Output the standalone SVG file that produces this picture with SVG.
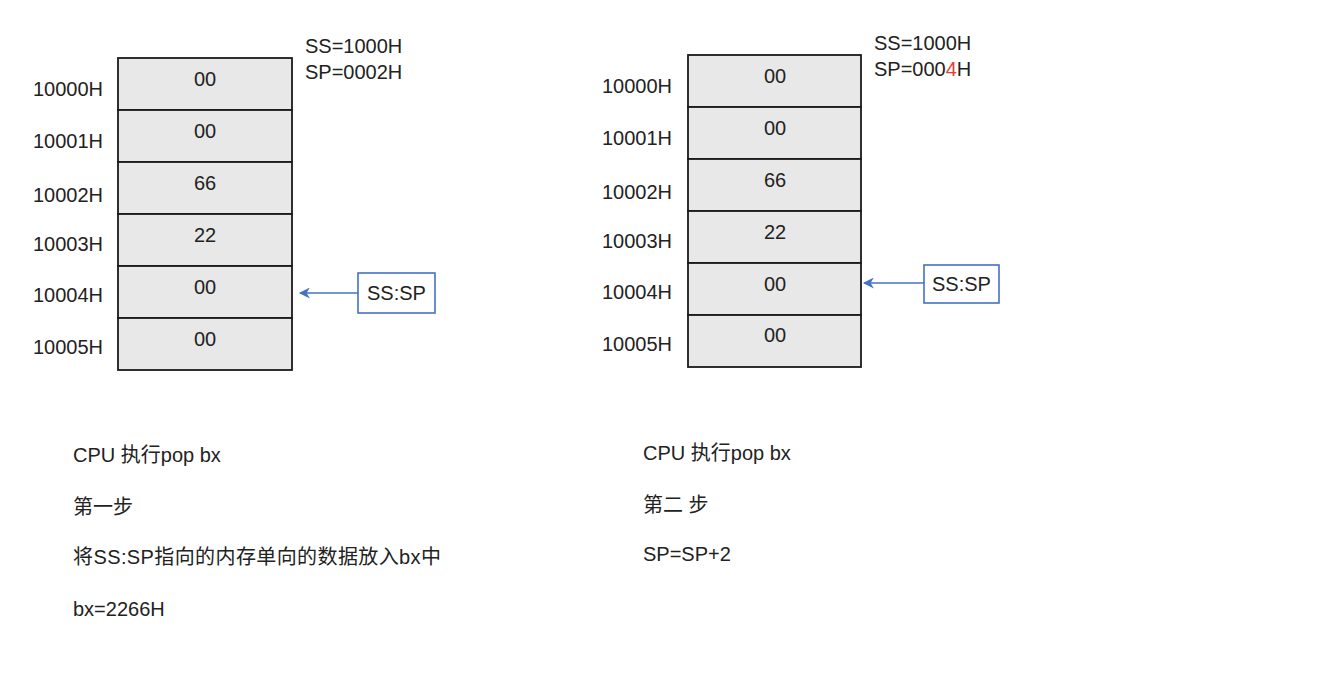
<svg xmlns="http://www.w3.org/2000/svg" width="1330" height="700" viewBox="0 0 1330 700">
<style>
text{font-family:"Liberation Sans","Noto Sans CJK SC",Arial,sans-serif;font-size:20px;fill:#222}
.cell{fill:#e8e8e8;stroke:#1a1a1a;stroke-width:1.8}
.v{text-anchor:middle}
.box{fill:#fff;stroke:#4472C4;stroke-width:1.6}
.conn{stroke:#4472C4;stroke-width:1.6;fill:none}
</style>
<defs>
<marker id="ah" viewBox="0 0 10 10" refX="9" refY="5" markerWidth="12" markerHeight="11" markerUnits="userSpaceOnUse" orient="auto">
<path d="M0,0 L10,5 L0,10 L3,5 Z" fill="#4472C4"/>
</marker>
</defs>
<rect width="1330" height="700" fill="#fff"/>

<g id="stack-left">
<rect class="cell" x="118" y="58" width="174" height="52"/>
<rect class="cell" x="118" y="110" width="174" height="52"/>
<rect class="cell" x="118" y="162" width="174" height="52"/>
<rect class="cell" x="118" y="214" width="174" height="52"/>
<rect class="cell" x="118" y="266" width="174" height="52"/>
<rect class="cell" x="118" y="318" width="174" height="52"/>
<text class="v" x="205" y="86">00</text>
<text class="v" x="205" y="138">00</text>
<text class="v" x="205" y="190">66</text>
<text class="v" x="205" y="242">22</text>
<text class="v" x="205" y="294">00</text>
<text class="v" x="205" y="346">00</text>
<text x="33" y="96">10000H</text>
<text x="33" y="148">10001H</text>
<text x="33" y="202">10002H</text>
<text x="33" y="251">10003H</text>
<text x="33" y="302">10004H</text>
<text x="33" y="354">10005H</text>
<text x="305" y="53">SS=1000H</text>
<text x="305" y="79">SP=0002H</text>
</g>

<g id="sssp-left">
<rect class="box" x="358" y="273" width="77" height="40"/>
<text class="v" x="396.500" y="300">SS:SP</text>
</g>

<g id="stack-right">
<rect class="cell" x="688" y="55" width="173" height="52"/>
<rect class="cell" x="688" y="107" width="173" height="52"/>
<rect class="cell" x="688" y="159" width="173" height="52"/>
<rect class="cell" x="688" y="211" width="173" height="52"/>
<rect class="cell" x="688" y="263" width="173" height="52"/>
<rect class="cell" x="688" y="315" width="173" height="52"/>
<text class="v" x="775" y="83">00</text>
<text class="v" x="775" y="135">00</text>
<text class="v" x="775" y="187">66</text>
<text class="v" x="775" y="239">22</text>
<text class="v" x="775" y="291">00</text>
<text class="v" x="775" y="342">00</text>
<text x="602" y="93">10000H</text>
<text x="602" y="145">10001H</text>
<text x="602" y="199">10002H</text>
<text x="602" y="248">10003H</text>
<text x="602" y="299">10004H</text>
<text x="602" y="351">10005H</text>
<text x="874" y="50">SS=1000H</text>
<text x="874" y="76">SP=000<tspan fill="#e53e2e">4</tspan>H</text>
</g>

<g id="sssp-right">
<rect class="box" x="924" y="265" width="75" height="38"/>
<text class="v" x="961.500" y="291">SS:SP</text>
</g>

<g id="connectors">
<line class="conn" x1="358" y1="293" x2="300" y2="293" marker-end="url(#ah)"/>
<line class="conn" x1="924" y1="283" x2="864" y2="283" marker-end="url(#ah)"/>
</g>

<g id="notes-left">
<text x="73" y="462">CPU 执行pop bx</text>
<text x="73" y="514">第一步</text>
<text x="73" y="564" textLength="368" lengthAdjust="spacing">将SS:SP指向的内存单向的数据放入bx中</text>
<text x="73" y="616">bx=2266H</text>
</g>

<g id="notes-right">
<text x="643" y="460">CPU 执行pop bx</text>
<text x="643" y="512">第二 步</text>
<text x="643" y="561">SP=SP+2</text>
</g>
</svg>
